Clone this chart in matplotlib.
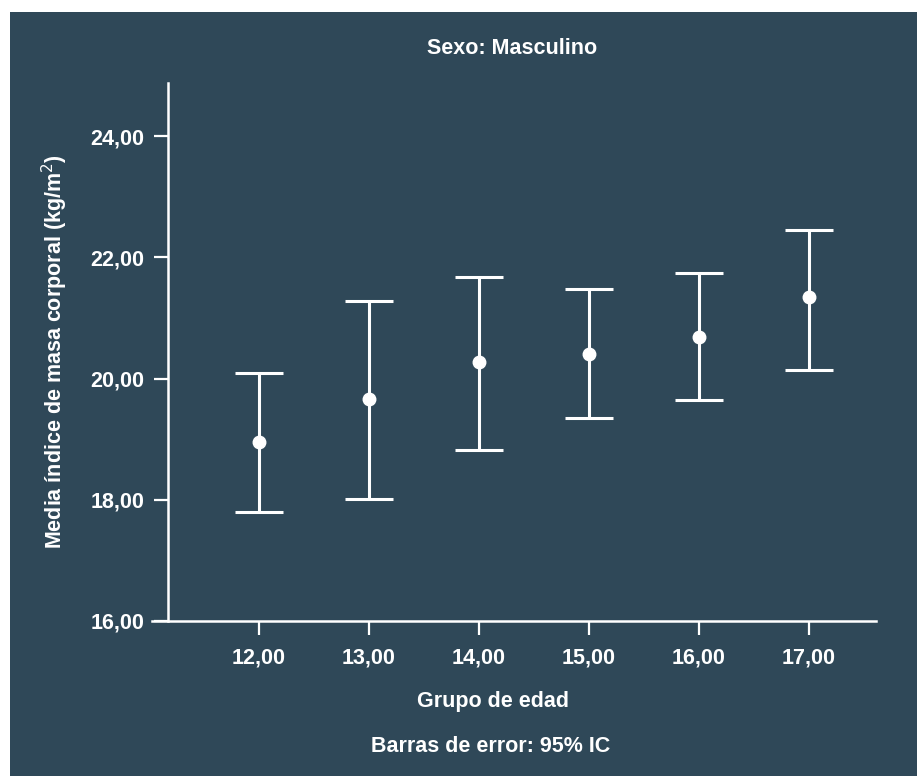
import matplotlib.pyplot as plt
from matplotlib.patches import Rectangle

plt.rcParams['font.family'] = ['Liberation Sans', 'DejaVu Sans']

# mean BMI per age group with 95% CI bounds
edades = [12, 13, 14, 15, 16, 17]
media = [18.95, 19.66, 20.28, 20.41, 20.69, 21.34]
ic_inf = [17.80, 18.02, 18.83, 19.35, 19.65, 20.14]
ic_sup = [20.09, 21.28, 21.68, 21.48, 21.74, 22.46]
yticks = [16, 18, 20, 22, 24]

bg = '#2f4858'
fg = 'white'
fs = 15.5

fig = plt.figure(figsize=(9.17, 7.76), dpi=100, facecolor='white')
fig.patches.append(Rectangle((10 / 917, 0), 1, (776 - 12) / 776,
                             transform=fig.transFigure, facecolor=bg,
                             edgecolor='none', zorder=-1))

ax = fig.add_axes([152 / 917, (776 - 621) / 776, (876 - 152) / 917, (621 - 83) / 776])
ax.set_zorder(1)
ax.set_facecolor(bg)

err = [[m - lo for m, lo in zip(media, ic_inf)],
       [hi - m for m, hi in zip(media, ic_sup)]]
ax.errorbar(edades, media, yerr=err, fmt='o', color=fg, ecolor=fg,
            markersize=9, elinewidth=2.2, capsize=17, capthick=2.2)

ax.set_xlim(11.03, 17.61)
ax.set_ylim(16, 24.88)
ax.set_xticks(edades)
ax.set_xticklabels([f'{e:.2f}'.replace('.', ',') for e in edades])
ax.set_yticks(yticks)
ax.set_yticklabels([f'{v:.2f}'.replace('.', ',') for v in yticks])

for s in ['top', 'right']:
    ax.spines[s].set_visible(False)
ax.spines['left'].set_position(('data', 11.175))
for s in ['left', 'bottom']:
    ax.spines[s].set_color(fg)
    ax.spines[s].set_linewidth(1.8)

ax.tick_params(colors=fg, width=1.6, length=10, labelsize=fs)
ax.tick_params(axis='y', pad=7)
ax.tick_params(axis='x', pad=9)
for lab in ax.get_xticklabels() + ax.get_yticklabels():
    lab.set_fontweight('bold')

fig.text(512 / 917, 1 - 48 / 776, 'Sexo: Masculino', color=fg, fontsize=fs,
         fontweight='bold', ha='center', va='center')
fig.text(493 / 917, 1 - 702 / 776, 'Grupo de edad', color=fg, fontsize=fs,
         fontweight='bold', ha='center', va='center')
fig.text(491 / 917, 1 - 747 / 776, 'Barras de error: 95% IC', color=fg, fontsize=fs,
         fontweight='bold', ha='center', va='center')
fig.text(55 / 917, 1 - 352 / 776, 'Media índice de masa corporal (kg/m$^2$)', color=fg,
         fontsize=fs, fontweight='bold', rotation=90, ha='center', va='center')

fig.savefig('out.png', dpi=100, facecolor=fig.get_facecolor())
